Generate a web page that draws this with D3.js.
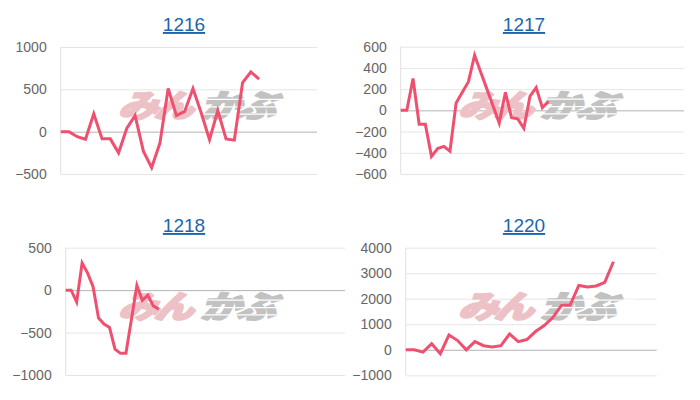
<!DOCTYPE html>
<html>
<head>
<meta charset="utf-8">
<script src="https://cdn.jsdelivr.net/npm/d3@7"></script>
<style>
  body { margin: 0; background: #fff; }
  .tick text { font-family: "Liberation Sans", Arial, sans-serif; font-size: 14px; fill: #666; }
</style>
</head>
<body>
<script>
// chart titles (stock codes)
var codes = ["1216", "1217", "1218", "1220"];

// number of x slots on each chart (no x labels are shown)
var slots = [32, 47, 52, 30];

// series values
var values1216 = [0, 0, -60, -90, 210, -85, -85, -250, 40, 190, -230, -425, -135, 510, 190, 240, 510, 220, -95, 250, -85, -100, 580, 705, 620];
var values1217 = [0, 0, 300, -130, -130, -435, -360, -340, -385, 70, 170, 270, 520, 360, 200, 40, -120, 170, -70, -80, -170, 135, 215, 25, 85];
var values1218 = [0, 0, -140, 320, 200, 40, -330, -400, -440, -695, -745, -745, -345, 55, -120, -60, -185, -225];
var values1220 = [0, 0, -90, 235, -155, 580, 360, 0, 320, 160, 110, 160, 620, 320, 400, 715, 950, 1260, 1740, 1750, 2520, 2460, 2500, 2640, 3450];

// y tick labels
var ticks1216 = [-500, 0, 500, 1000];
var ticks1217 = [-600, -400, -200, 0, 200, 400, 600];
var ticks1218 = [-1000, -500, 0, 500];
var ticks1220 = [-1000, 0, 1000, 2000, 3000, 4000];

var series = [values1216, values1217, values1218, values1220];
var tickSets = [ticks1216, ticks1217, ticks1218, ticks1220];

// plot boxes for the four panels
var boxes = [
    { left: 60.7, right: 317, top: 47, bottom: 174, cx: 184, ty: 31 },
    { left: 400.7, right: 684, top: 46.7, bottom: 174, cx: 524, ty: 31 },
    { left: 65.7, right: 345, top: 247.7, bottom: 375, cx: 184, ty: 232 },
    { left: 405.7, right: 656.7, top: 247.7, bottom: 375.3, cx: 524, ty: 232 }
];

var svg = d3.select("body")
    .append("svg")
    .attr("width", 700)
    .attr("height", 400);

codes.forEach(function(code, i) {
    var b = boxes[i];
    var data = series[i];
    var ticks = tickSets[i];

    var x = d3.scalePoint()
        .domain(d3.range(slots[i]))
        .range([b.left, b.right]);

    var y = d3.scaleLinear()
        .domain([d3.min(ticks), d3.max(ticks)])
        .range([b.bottom, b.top]);

    var g = svg.append("g");

    // title, drawn as a link
    g.append("text")
        .attr("x", b.cx)
        .attr("y", b.ty)
        .attr("text-anchor", "middle")
        .attr("font-family", "Liberation Sans, Arial, sans-serif")
        .attr("font-size", 19)
        .attr("fill", "#1c66ad")
        .attr("text-decoration", "underline")
        .text(code);

    // y axis with grid lines
    var axis = g.append("g")
        .attr("transform", "translate(" + b.left + ",0)")
        .call(d3.axisLeft(y)
            .tickValues(ticks)
            .tickSize(-(b.right - b.left))
            .tickPadding(14)
            .tickFormat(d3.format("d")));
    axis.select(".domain").remove();
    axis.selectAll(".tick line")
        .attr("stroke", function(d) { return d === 0 ? "#b3b3b3" : "#e5e5e5"; });

    // left axis line
    g.append("line")
        .attr("x1", b.left).attr("x2", b.left)
        .attr("y1", b.top).attr("y2", b.bottom)
        .attr("stroke", "#e0e0e0");

    // watermark logo (flattened, slanted)
    var wx = b.cx - 62, wy = b.top + 42;
    var wm = g.append("g")
        .attr("transform", "translate(" + wx + "," + wy + ") scale(1.05,0.82) skewX(-16)");
    wm.append("text")
        .attr("x", 6).attr("y", 34)
        .attr("font-family", "Noto Sans CJK JP")
        .attr("font-weight", 900)
        .attr("font-size", 38)
        .attr("letter-spacing", -4)
        .attr("fill", "#edc2c7")
        .attr("stroke", "#edc2c7")
        .attr("stroke-width", 2.5)
        .attr("stroke-linejoin", "round")
        .text("みん");
    wm.append("text")
        .attr("x", 84).attr("y", 34)
        .attr("font-family", "Noto Sans CJK JP")
        .attr("font-weight", 900)
        .attr("font-size", 38)
        .attr("letter-spacing", -4)
        .attr("fill", "#c2c2c2")
        .attr("stroke", "#c2c2c2")
        .attr("stroke-width", 2.5)
        .attr("stroke-linejoin", "round")
        .text("かぶ");
    [12, 21, 30].forEach(function(dy) {
        wm.append("rect")
            .attr("x", 84).attr("y", dy)
            .attr("width", 86).attr("height", 1.5)
            .attr("fill", "#fff");
    });

    // the series line
    var line = d3.line()
        .x(function(d, j) { return x(j); })
        .y(function(d) { return y(d); });

    g.append("path")
        .datum(data)
        .attr("fill", "none")
        .attr("stroke", "#f0506f")
        .attr("stroke-width", 3)
        .attr("stroke-linejoin", "miter")
        .attr("d", line);
});
</script>
</body>
</html>
